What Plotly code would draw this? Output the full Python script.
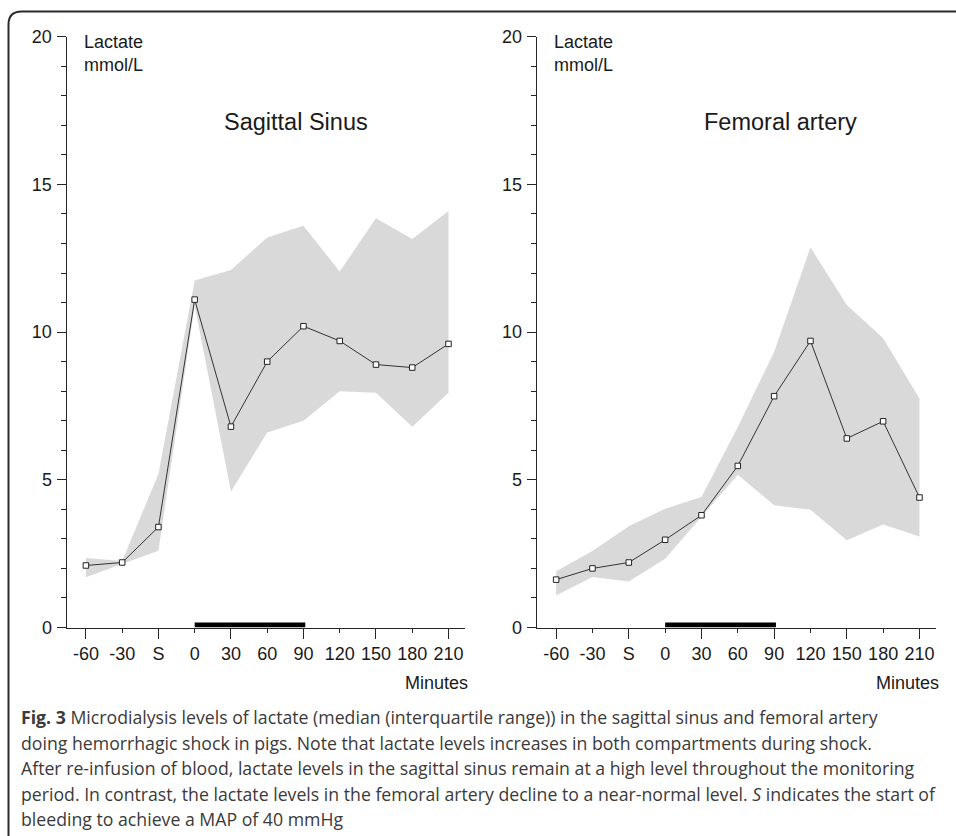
import plotly.graph_objects as go

W, H = 956, 836

# ---------------- data ----------------
categories = ["-60", "-30", "S", "0", "30", "60", "90", "120", "150", "180", "210"]
yticks = [0, 5, 10, 15, 20]

# Sagittal sinus: median and interquartile range (mmol/L)
ss_median = [2.1, 2.2, 3.4, 11.1, 6.8, 9.0, 10.2, 9.7, 8.9, 8.8, 9.6]
ss_q1 = [1.7, 2.15, 2.6, 10.9, 4.6, 6.6, 7.0, 8.0, 7.95, 6.8, 7.95]
ss_q3 = [2.35, 2.25, 5.2, 11.75, 12.1, 13.2, 13.6, 12.05, 13.85, 13.15, 14.1]

# Femoral artery: median and interquartile range (mmol/L)
fa_median = [1.62, 2.0, 2.2, 2.97, 3.8, 5.47, 7.83, 9.7, 6.4, 6.98, 4.4]
fa_q1 = [1.08, 1.71, 1.56, 2.33, 3.75, 5.17, 4.14, 3.99, 2.95, 3.49, 3.08]
fa_q3 = [1.9, 2.59, 3.43, 4.02, 4.42, 6.79, 9.33, 12.87, 10.92, 9.79, 7.75]

shock_start, shock_end = "0", "90"

titles = ["Sagittal Sinus", "Femoral artery"]
caption_lines = [
    "<b>Fig. 3</b> Microdialysis levels of lactate (median (interquartile range)) in the sagittal sinus and femoral artery",
    "doing hemorrhagic shock in pigs. Note that lactate levels increases in both compartments during shock.",
    "After re-infusion of blood, lactate levels in the sagittal sinus remain at a high level throughout the monitoring",
    "period. In contrast, the lactate levels in the femoral artery decline to a near-normal level. <i>S</i> indicates the start of",
    "bleeding to achieve a MAP of 40 mmHg",
]

# ---------------- helpers ----------------
def px(xp):
    return xp / W

def py(yp):
    return 1 - yp / H

pos = list(range(len(categories)))
FONT = "Arial, Liberation Sans, sans-serif"
AX = "#262626"
BAND = "#d9d9d9"

fig = go.Figure()

panels = [
    ("x", "y", ss_median, ss_q1, ss_q3),
    ("x2", "y2", fa_median, fa_q1, fa_q3),
]
for xa, ya, med, q1, q3 in panels:
    fig.add_trace(go.Scatter(
        x=pos + pos[::-1], y=q3 + q1[::-1], xaxis=xa, yaxis=ya,
        fill="toself", fillcolor=BAND, mode="lines", line=dict(width=0),
        hoverinfo="skip", showlegend=False))
    fig.add_trace(go.Scatter(
        x=pos, y=med, xaxis=xa, yaxis=ya, mode="lines+markers",
        line=dict(color="#333333", width=1),
        marker=dict(symbol="square", size=5.5, color="white",
                    line=dict(color="#222222", width=1)),
        showlegend=False))

# dummy traces for the overlay axes carrying the long x ticks
fig.add_trace(go.Scatter(x=[None], y=[None], xaxis="x3", yaxis="y", showlegend=False, hoverinfo="skip"))
fig.add_trace(go.Scatter(x=[None], y=[None], xaxis="x4", yaxis="y2", showlegend=False, hoverinfo="skip"))

xr = [-0.535, 10.455]
ydom = [py(627.5), py(36.7)]
xdoms = [[px(66.5), px(465)], [px(536.7), px(936)]]

def xaxis_main(dom, anchor):
    return dict(domain=dom, anchor=anchor, range=xr, showgrid=False, zeroline=False,
                showline=True, linecolor=AX, linewidth=1, automargin=False,
                tickmode="array", tickvals=pos, ticktext=categories,
                ticks="outside", ticklen=4, tickwidth=1, tickcolor=AX,
                tickfont=dict(family=FONT, size=18, color="#1a1a1a"),
                ticklabelstandoff=6, fixedrange=True)

def xaxis_over(over, anchor):
    return dict(overlaying=over, anchor=anchor, range=xr, showgrid=False, zeroline=False,
                showline=False, tickmode="array", tickvals=pos[::2], automargin=False,
                ticks="outside", ticklen=10, tickwidth=1, tickcolor=AX,
                showticklabels=False, fixedrange=True)

def yaxis_main(anchor):
    return dict(domain=ydom, anchor=anchor, range=[0, 20], showgrid=False, zeroline=False,
                showline=True, linecolor=AX, linewidth=1, automargin=False,
                tickmode="array", tickvals=yticks,
                ticks="outside", ticklen=9, tickwidth=1, tickcolor=AX,
                minor=dict(ticks="outside", ticklen=5, dtick=1, tickcolor=AX, tickwidth=1),
                tickfont=dict(family=FONT, size=18, color="#1a1a1a"),
                ticklabelstandoff=1, fixedrange=True)

fig.update_layout(
    width=W, height=H, margin=dict(l=0, r=0, t=0, b=0, autoexpand=False),
    paper_bgcolor="white", plot_bgcolor="rgba(0,0,0,0)",
    xaxis=xaxis_main(xdoms[0], "y"),
    xaxis2=xaxis_main(xdoms[1], "y2"),
    xaxis3=xaxis_over("x", "y"),
    xaxis4=xaxis_over("x2", "y2"),
    yaxis=yaxis_main("x"),
    yaxis2=yaxis_main("x2"),
    showlegend=False,
)

# shock period bars on the time axis
i0, i1 = categories.index(shock_start), categories.index(shock_end)
for xa, ya in [("x", "y"), ("x2", "y2")]:
    fig.add_shape(type="rect", xref=xa, yref=ya, x0=i0, x1=i1 + 0.05, y0=0, y1=0.17,
                  fillcolor="black", line=dict(width=0))

# frame (rounded top-left corner)
r = 13
fx, fy = 8.5, 11.5
path = (f"M {px(fx)},{py(H + 10)} L {px(fx)},{py(fy + r)} "
        f"Q {px(fx)},{py(fy)} {px(fx + r)},{py(fy)} L {px(W + 10)},{py(fy)}")
fig.add_shape(type="path", xref="paper", yref="paper", path=path,
              line=dict(color="#2a2a2a", width=2))

ann = []
# unit labels and panel titles
for k, (xl, xc) in enumerate([(82, 296), (552, 780)]):
    ann.append(dict(x=px(xl), y=py(30), xref="paper", yref="paper", xanchor="left", yanchor="top",
                    text="Lactate<br>mmol/L", showarrow=False, align="left",
                    font=dict(family=FONT, size=18, color="#1a1a1a")))
    ann.append(dict(x=px(xc), y=py(122), xref="paper", yref="paper", xanchor="center", yanchor="middle",
                    text=titles[k], showarrow=False,
                    font=dict(family=FONT, size=23.5, color="#1a1a1a")))
for xr_ in (470, 941):
    ann.append(dict(x=px(xr_), y=py(683), xref="paper", yref="paper", xanchor="right", yanchor="middle",
                    text="Minutes", showarrow=False,
                    font=dict(family=FONT, size=18, color="#1a1a1a")))

# caption
for j, line in enumerate(caption_lines):
    ann.append(dict(x=px(19), y=py(717 + 25.5 * j), xref="paper", yref="paper",
                    xanchor="left", yanchor="middle", text=line, showarrow=False, align="left",
                    font=dict(family="Open Sans, sans-serif", size=17.7, color="#3a3a3a")))

fig.update_layout(annotations=ann)
fig.write_html("out.html")
